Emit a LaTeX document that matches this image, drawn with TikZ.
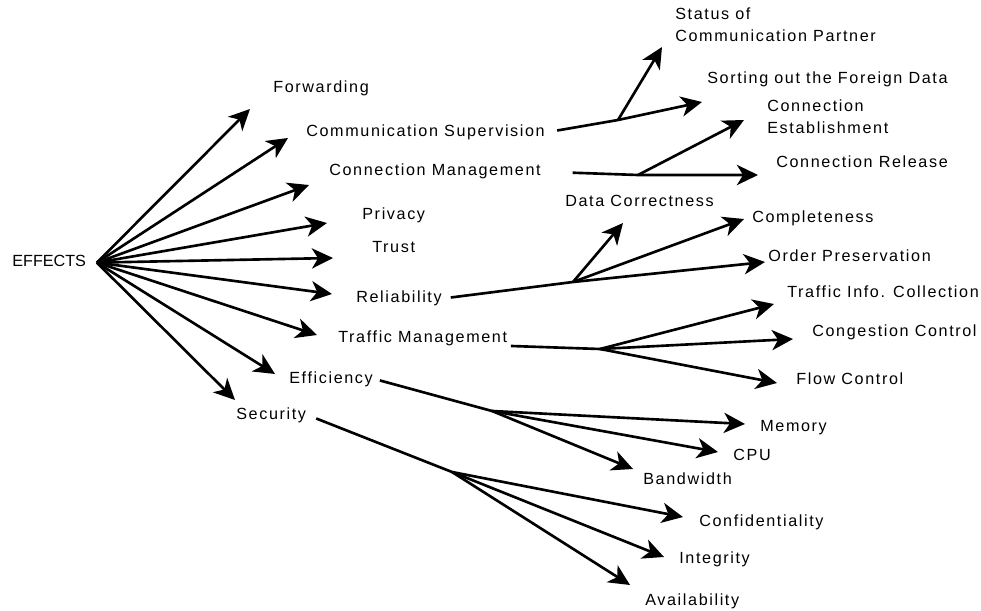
\documentclass[tikz,border=0pt]{standalone}
\usepackage{fontspec}
\setmainfont{Liberation Sans}
\newfontfamily\spacedfont{Liberation Sans}[LetterSpace=10]
\usetikzlibrary{arrows.meta,positioning}

\begin{document}
\begin{tikzpicture}[
  x=0.02cm, y=-0.02cm,
  txt/.style={font=\spacedfont\fontsize{9.2}{12.6}\selectfont, inner sep=0pt},
  lbl/.style={txt, anchor=base west, text height=7pt, text depth=2pt},
  multi/.style={txt, anchor=north west, align=left},
  rootlbl/.style={font=\fontsize{9.2}{12.6}\selectfont, inner sep=0pt,
                  anchor=base west, text height=7pt, text depth=2pt},
  arr/.style={-{Stealth[length=12pt, width=11.5pt, inset=3.5pt]}, line width=1.5pt},
  node distance=6pt]

\useasboundingbox (0,0) rectangle (981,611);

\node[rootlbl] (root) at (12,267) {EFFECTS};
\coordinate[right=6pt of root] (hub);

\node[lbl] (fwd)   at (273,93)  {Forwarding};
\node[lbl] (cs)    at (306,137) {Communication Supervision};
\node[lbl] (cm)    at (329,176) {Connection Management};
\node[lbl] (priv)  at (362,220) {Privacy};
\node[lbl] (trust) at (372,253) {Trust};
\node[lbl] (rel)   at (356,303) {Reliability};
\node[lbl] (tm)    at (338,342) {Traffic Management};
\node[lbl] (eff)   at (289,383) {Efficiency};
\node[lbl] (sec)   at (236,419) {Security};

\node[multi] (stat) at (675,7.5) {Status of\\Communication Partner};
\node[lbl] (sort)   at (707,84)  {Sorting out the Foreign Data};
\node[multi] (est)  at (767,99)  {Connection\\Establishment};
\node[lbl] (crel)   at (776,168) {Connection Release};
\node[lbl] (dc)     at (565,207) {Data Correctness};
\node[lbl] (comp)   at (752,223) {Completeness};
\node[lbl] (ord)    at (768,262) {Order Preservation};
\node[lbl] (tic)    at (787,298) {Traffic Info. Collection};
\node[lbl] (cc)     at (812,337) {Congestion Control};
\node[lbl] (fc)     at (796,384) {Flow Control};
\node[lbl] (mem)    at (760,431) {Memory};
\node[lbl] (cpu)    at (733,460) {CPU};
\node[lbl] (bw)     at (643,484) {Bandwidth};
\node[lbl] (conf)   at (699,526) {Confidentiality};
\node[lbl] (integ)  at (679,563) {Integrity};
\node[lbl] (avail)  at (645,605) {Availability};

\coordinate (tfwd)   at (250,109);
\coordinate (tcs)    at (288,138);
\coordinate (tcm)    at (309,185);
\coordinate (tpriv)  at (327,223);
\coordinate (ttrust) at (333,258);
\coordinate (trel)   at (332,294);
\coordinate (ttm)    at (317,335);
\coordinate (teff)   at (275,374);
\coordinate (tsec)   at (235,400);

\coordinate (jcs)  at (618,120);
\coordinate (jcm)  at (638,175);
\coordinate (jrel) at (573,282);
\coordinate (jtm)  at (600,349);
\coordinate (jeff) at (492,411);
\coordinate (jsec) at (452,472);

\coordinate (tstat)  at (662,47);
\coordinate (tsort)  at (702,102);
\coordinate (test)   at (744,120);
\coordinate (tcrel)  at (758,175);
\coordinate (tdc)    at (623,223);
\coordinate (tcomp)  at (744,219);
\coordinate (tord)   at (765,262);
\coordinate (ttic)   at (774,304);
\coordinate (tcc)    at (793,339);
\coordinate (tfc)    at (777,383);
\coordinate (tmem)   at (745,424);
\coordinate (tcpu)   at (718,452);
\coordinate (tbw)    at (633,469);
\coordinate (tconf)  at (683,517);
\coordinate (tint)   at (664,557);
\coordinate (tavail) at (630,585);

\draw[arr] (hub) -- (tfwd);
\draw[arr] (hub) -- (tcs);
\draw[arr] (hub) -- (tcm);
\draw[arr] (hub) -- (tpriv);
\draw[arr] (hub) -- (ttrust);
\draw[arr] (hub) -- (trel);
\draw[arr] (hub) -- (ttm);
\draw[arr] (hub) -- (teff);
\draw[arr] (hub) -- (tsec);

\draw[arr, shorten <=7pt] (cs.east) -- (jcs) -- (tsort);
\draw[arr] (jcs) -- (tstat);
\draw[arr, shorten <=18pt] (cm.east) -- (jcm) -- (tcrel);
\draw[arr] (jcm) -- (test);
\draw[arr, shorten <=5pt] (rel.east) -- (jrel) -- (tord);
\draw[arr] (jrel) -- (tdc);
\draw[arr] (jrel) -- (tcomp);
\draw[arr, shorten <=2pt] (tm.south east) -- (jtm) -- (tcc);
\draw[arr] (jtm) -- (ttic);
\draw[arr] (jtm) -- (tfc);
\draw[arr, shorten <=4pt] (eff.east) -- (jeff) -- (tmem);
\draw[arr] (jeff) -- (tcpu);
\draw[arr] (jeff) -- (tbw);
\draw[arr, shorten <=6pt] (sec.east) -- (jsec) -- (tconf);
\draw[arr] (jsec) -- (tint);
\draw[arr] (jsec) -- (tavail);
\end{tikzpicture}
\end{document}
